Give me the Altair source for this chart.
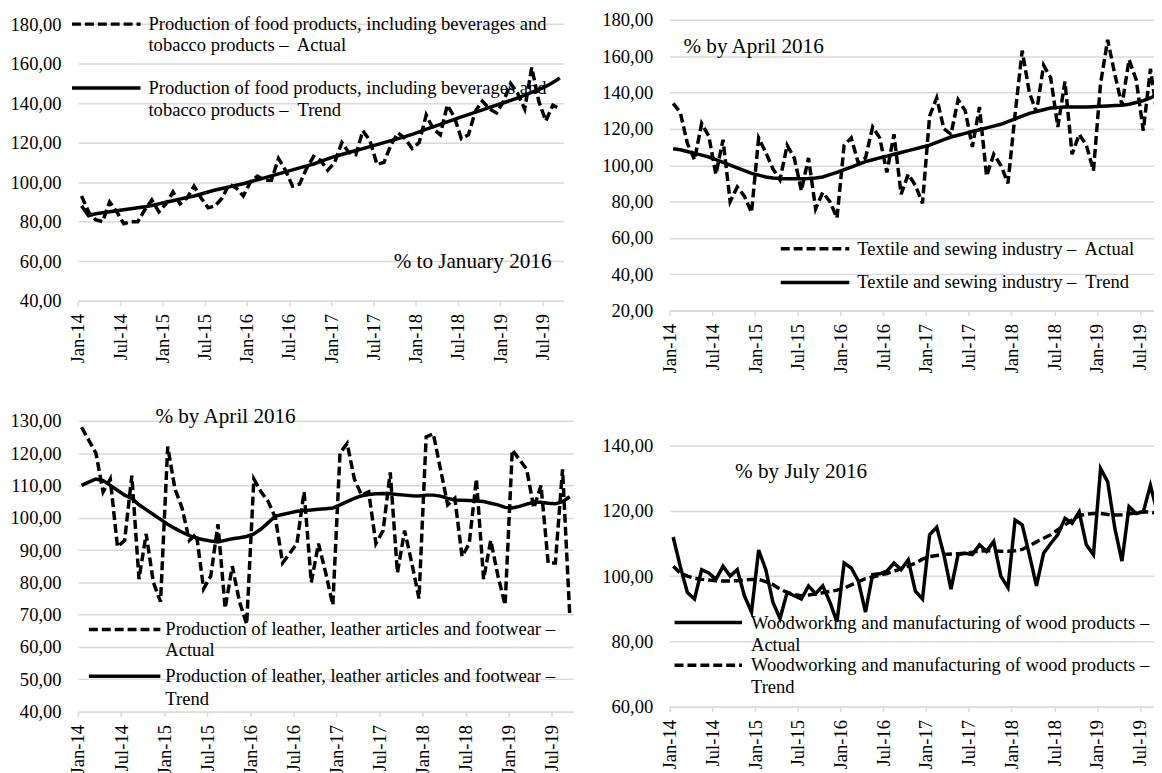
import altair as alt
import pandas as pd

FONT = "Liberation Serif"
FS = 18.7
FS_NOTE = 21.3
GRID = "#d9d9d9"
DASH = [9, 4]
LW = 3.5

MONTH_INDEX = list(range(69))  # Jan-14 .. Sep-19
TICK_POS = [0, 6, 12, 18, 24, 30, 36, 42, 48, 54, 60, 66]
TICK_LABELS = ["Jan-14", "Jul-14", "Jan-15", "Jul-15", "Jan-16", "Jul-16",
               "Jan-17", "Jul-17", "Jan-18", "Jul-18", "Jan-19", "Jul-19"]

FOOD_ACTUAL = [93, 85, 81, 80, 90, 85, 79, 80, 80, 86, 91, 85,
               89, 95, 89, 92, 98, 92, 87, 88, 92, 99, 97, 93,
               100, 103, 101, 101, 112, 106, 98, 99, 107, 113, 111, 106,
               110, 120, 115, 114, 126, 121, 109, 110, 119, 125, 122, 117,
               120, 134, 127, 124, 139, 133, 122, 124, 136, 141, 137, 135,
               141, 150, 145, 137, 158, 141, 131, 139, 137]
FOOD_TREND = [88, 83, 84, 84.5, 85, 85.5, 86, 86.5, 87, 87.5, 88.2, 89,
              89.8, 90.6, 91.4, 92.2, 93, 94, 95, 96, 96.8, 97.6, 98.4, 99.2,
              100.2, 101.2, 102.2, 103.2, 104.2, 105.2, 106.2, 107.2, 108.2, 109.2, 110.5, 111.8,
              113, 114, 115, 116, 117, 118, 119, 120, 121, 122, 123, 124.2,
              125.5, 126.8, 128, 129.2, 130.5, 131.8, 133, 134.2, 135.4, 136.6, 137.8, 139,
              140.2, 141.4, 142.6, 144, 145.4, 146.8, 148.4, 150.5, 152.7]

TEXT_ACTUAL = [134, 129, 112, 103, 123, 116, 95, 114, 80, 88, 83, 74,
               115, 107, 98, 92, 111, 104, 86, 104, 76, 85, 80, 71,
               111, 115, 101, 104, 121, 115, 96, 117, 84, 95, 89, 79,
               127, 137, 120, 117, 136, 130, 110, 132, 94, 106, 100, 90,
               128, 163, 140, 129, 155, 148, 121, 146, 106, 117, 111, 97,
               145, 169, 150, 133, 158, 147, 119, 153, 126]
TEXT_TREND = [109, 108.5, 107.5, 106.5, 105.5, 104.5, 103, 101.5, 100, 98.5, 97, 95.5,
              94.5, 93.5, 93, 92.7, 92.5, 92.5, 92.5, 92.7, 93, 93.5, 94.8, 96,
              97.5, 99, 100.5, 102, 103, 104, 105, 106, 107, 108, 109, 110,
              111, 112.5, 114, 115.5, 116.5, 117.5, 118.5, 119.5, 120.5, 121.5, 122.5, 124,
              125.5, 127, 128.5, 129.5, 130.5, 131.5, 131.8, 132, 132, 132, 132, 132.2,
              132.4, 132.6, 132.8, 133, 133.5, 134.5, 135.5, 137, 139]

LEATHER_ACTUAL = [128, 124, 120, 108, 112, 91, 93, 113, 81, 95, 80, 74,
                  122, 109, 103, 93, 95, 78, 82, 98, 72, 85, 74, 67,
                  112, 108, 105, 100, 86, 89, 92, 108, 80, 92, 83, 73,
                  120, 123, 112, 107, 108, 92, 96, 114, 83, 96, 86, 75,
                  125, 126, 115, 104, 106, 88, 92, 112, 81, 93, 82, 73,
                  121, 118, 115, 103, 110, 86, 86, 115, 70]
LEATHER_TREND = [110, 111, 112, 111.5, 110, 108.5, 107, 106, 104, 102.5, 101, 99.5,
                 98, 96.7, 95.5, 94.5, 93.7, 93.2, 92.8, 92.5, 93, 93.5, 93.8, 94.2,
                 95, 96.5, 98.5, 100.5, 101, 101.5, 102, 102.2, 102.4, 102.6, 102.8, 103,
                 104, 105, 106, 106.8, 107.2, 107.4, 107.5, 107.4, 107.2, 107, 106.8, 106.7,
                 107, 107, 106.7, 106, 105.5, 105.4, 105.3, 105.2, 105, 104.5, 104, 103.2,
                 103, 103.5, 104.2, 104.8, 104.8, 104.5, 104.3, 105, 106.5]

WOOD_ACTUAL = [112, 103, 95, 93, 102, 101, 99, 103, 100, 102, 94, 89,
               108, 102, 92, 87, 95, 94, 93, 97, 94.6, 97, 92, 86,
               104, 102.5, 98.5, 89, 100.5, 100.7, 101.5, 104, 102, 105, 95.4, 93,
               112.7, 115, 106.6, 96, 106.6, 107, 106.6, 109.6, 107.6, 110.6, 100, 96.5,
               117.2, 115.7, 106.6, 97, 107, 110, 112.7, 117.7, 116.2, 119.7, 109.6, 106.6,
               133, 128.9, 114.7, 104.6, 121.3, 119.2, 119.7, 127.8, 119.2]
WOOD_TREND = [103, 101, 100, 99.3, 99, 98.8, 98.6, 98.5, 98.5, 98.6, 98.8, 99,
              99, 98.3, 97.4, 96, 95, 94.3, 94, 94.2, 94.5, 94.9, 95.3, 95.7,
              96.3, 97.3, 98.3, 99.2, 99.7, 100.3, 100.8, 101.5, 102.3, 103.1, 104, 105.2,
              106, 106.3, 106.6, 106.8, 106.9, 107, 107.3, 107.7, 107.8, 107.7, 107.6, 107.6,
              107.8, 108.2, 109.3, 110.5, 111.6, 112.7, 114.2, 115.7, 117.2, 118.5, 119, 119.2,
              119.2, 118.9, 118.7, 118.8, 119.1, 119.4, 119.7, 119.6, 119.2]

SEP = "\u2013\u00a0 "
FOOD_LEG = [["Production of food products, including beverages and", "tobacco products " + SEP + "Actual"],
            ["Production of food products, including beverages and", "tobacco products " + SEP + "Trend"]]
TEXT_LEG = ["Textile and sewing industry " + SEP + "Actual", "Textile and sewing industry " + SEP + "Trend"]
LEATHER_LEG = [["Production of leather, leather articles and footwear \u2013", "Actual"],
               ["Production of leather, leather articles and footwear \u2013", "Trend"]]
WOOD_LEG = [["Woodworking and manufacturing of wood products \u2013", "Actual"],
            ["Woodworking and manufacturing of wood products \u2013", "Trend"]]
NOTES = ["% to January 2016", "% by April 2016", "% by April 2016", "% by July 2016"]

label_expr = "[" + ",".join("'%s'" % s for s in TICK_LABELS) + "][round(datum.value / 6)]"
ONE = pd.DataFrame({"k": [0]})


def x_axis():
    return alt.Axis(values=TICK_POS, labelExpr=label_expr, labelAngle=270, labelPadding=8,
                    tickSize=5, tickColor=GRID, tickWidth=1.5, domainColor=GRID, domainWidth=1.5,
                    grid=False, title=None, labelFlush=False, labelOverlap=False,
                    labelFont=FONT, labelFontSize=FS, labelColor="black")


def y_axis(values):
    return alt.Axis(values=values, labelExpr="replace(format(datum.value, '.2f'), '.', ',')",
                    domain=False, ticks=False, grid=True, gridColor=GRID, gridWidth=1.5,
                    labelPadding=17, title=None, labelOverlap=False, labelFlush=False,
                    labelFont=FONT, labelFontSize=FS, labelColor="black")


def text_at(s, x, y, size=FS):
    return alt.Chart(ONE).mark_text(text=s, align="left", baseline="middle", font=FONT,
                                    fontSize=size, color="black").encode(x=alt.value(x), y=alt.value(y))


def key_line(x1, x2, y, dashed):
    kw = dict(color="black", strokeWidth=LW)
    if dashed:
        kw["strokeDash"] = DASH
    return alt.Chart(ONE).mark_rule(**kw).encode(x=alt.value(x1), x2=alt.value(x2), y=alt.value(y))


def panel(actual, trend, ydom, yticks, xmax, width, height, actual_dashed, extras):
    df = pd.DataFrame({"i": MONTH_INDEX, "actual": actual, "trend": trend})
    base = alt.Chart(df).transform_calculate(t="datum.i + 0.5")
    xs = alt.Scale(domain=[0, xmax], nice=False, zero=False)
    ys = alt.Scale(domain=ydom, nice=False, zero=False)
    akw = dict(color="black", strokeWidth=LW, clip=True)
    tkw = dict(color="black", strokeWidth=LW, clip=True)
    if actual_dashed:
        akw["strokeDash"] = DASH
    else:
        tkw["strokeDash"] = DASH
    a = base.mark_line(**akw).encode(
        x=alt.X("t:Q", scale=xs, axis=x_axis()),
        y=alt.Y("actual:Q", scale=ys, axis=y_axis(yticks)))
    t = base.mark_line(**tkw).encode(
        x=alt.X("t:Q", scale=xs, axis=x_axis()),
        y=alt.Y("trend:Q", scale=ys, axis=y_axis(yticks)))
    return alt.layer(a, t, *extras).properties(width=width, height=height)


p1 = panel(FOOD_ACTUAL, FOOD_TREND, [40, 182.2], list(range(40, 181, 20)), 69, 489, 283, True, [
    key_line(-6, 63, 4.4, True),
    text_at(FOOD_LEG[0][0], 71, 4.4), text_at(FOOD_LEG[0][1], 71, 25.7),
    key_line(-6, 63, 68.7, False),
    text_at(FOOD_LEG[1][0], 71, 68.7), text_at(FOOD_LEG[1][1], 71, 90.7),
    text_at(NOTES[0], 318, 243.7, FS_NOTE),
])

p2 = panel(TEXT_ACTUAL, TEXT_TREND, [20, 180], list(range(20, 181, 20)), 68, 488, 293, True, [
    text_at(NOTES[1], 14, 27.7, FS_NOTE),
    key_line(112, 181, 230.7, True), text_at(TEXT_LEG[0], 189, 230.7),
    key_line(112, 181, 264.7, False), text_at(TEXT_LEG[1], 189, 264.7),
])

p3 = panel(LEATHER_ACTUAL, LEATHER_TREND, [40, 130], list(range(40, 131, 10)), 69, 499, 293, True, [
    text_at(NOTES[2], 78, -3.7, FS_NOTE),
    key_line(11, 83, 210.3, True),
    text_at(LEATHER_LEG[0][0], 88, 210.3), text_at(LEATHER_LEG[0][1], 88, 231.3),
    key_line(11, 83, 257.3, False),
    text_at(LEATHER_LEG[1][0], 88, 257.3), text_at(LEATHER_LEG[1][1], 88, 280.3),
])

p4 = panel(WOOD_ACTUAL, WOOD_TREND, [60, 147.6], list(range(60, 141, 20)), 68, 488, 288, False, [
    text_at(NOTES[3], 66, 51.3, FS_NOTE),
    key_line(5, 73, 203.3, False),
    text_at(WOOD_LEG[0][0], 82, 203.3), text_at(WOOD_LEG[0][1], 82, 226.3),
    key_line(5, 73, 246.3, True),
    text_at(WOOD_LEG[1][0], 82, 246.3), text_at(WOOD_LEG[1][1], 82, 268.3),
])

chart = alt.concat(p1, p2, p3, p4, columns=2, spacing={"row": 111, "column": 97},
                   bounds="flush").properties(
    padding={"left": 1.5, "top": 0, "right": 0, "bottom": 0},
    background="white",
).configure_view(stroke=None)

chart.save("out.html", embed_options={"renderer": "svg", "actions": False})
